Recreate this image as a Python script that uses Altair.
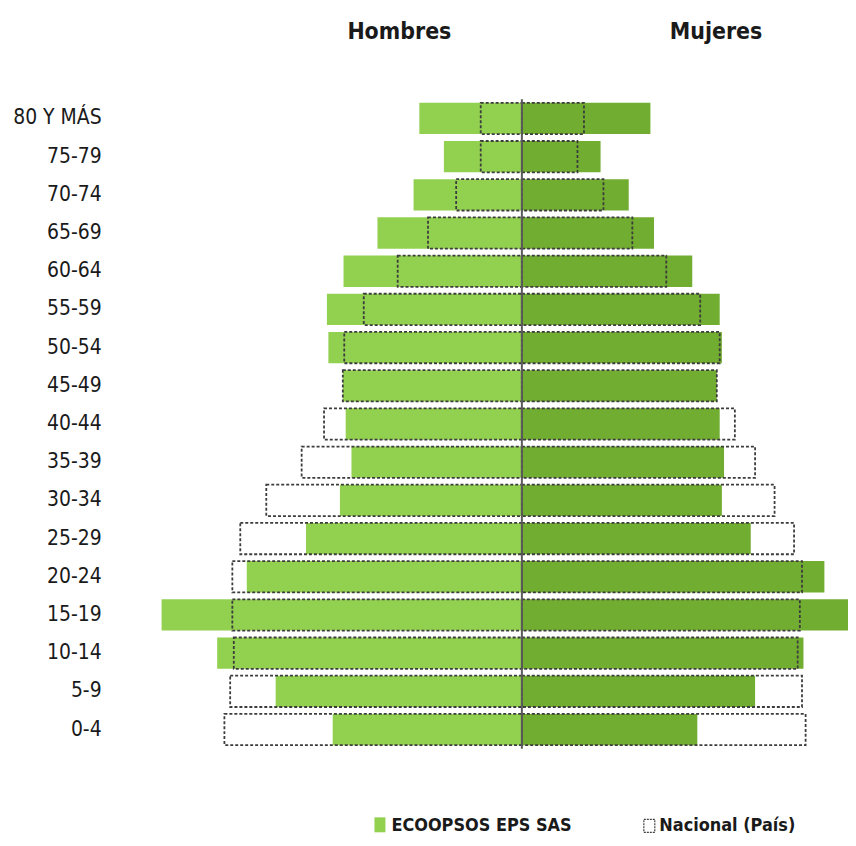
import altair as alt
import pandas as pd

# Age groups, top to bottom
grupos = ["80 Y MÁS", "75-79", "70-74", "65-69", "60-64", "55-59", "50-54",
          "45-49", "40-44", "35-39", "30-34", "25-29", "20-24", "15-19",
          "10-14", "5-9", "0-4"]

# Percent of population (ECOOPSOS EPS SAS)
hombres_eps = [1.42, 1.08, 1.50, 2.00, 2.47, 2.70, 2.68, 2.48, 2.44, 2.36,
               2.52, 2.99, 3.81, 4.99, 4.22, 3.41, 2.62]
mujeres_eps = [1.78, 1.09, 1.48, 1.83, 2.36, 2.74, 2.77, 2.70, 2.74, 2.80,
               2.77, 3.17, 4.19, 4.75, 3.90, 3.23, 2.43]

# Percent of population (Nacional - País)
hombres_nac = [0.57, 0.57, 0.91, 1.30, 1.72, 2.19, 2.46, 2.48, 2.74, 3.05,
               3.54, 3.90, 4.01, 4.01, 3.99, 4.04, 4.12]
mujeres_nac = [0.86, 0.77, 1.13, 1.53, 2.00, 2.47, 2.74, 2.70, 2.95, 3.23,
               3.50, 3.77, 3.88, 3.85, 3.82, 3.88, 3.93]

sexos = ["Hombres", "Mujeres"]
leyenda = ["ECOOPSOS EPS SAS", "Nacional (País)"]

FONT = "DejaVu Sans Condensed, Liberation Sans, sans-serif"

rows = []
for i, g in enumerate(grupos):
    rows.append({"grupo": g, "sexo": sexos[0], "eps": -hombres_eps[i], "nac": -hombres_nac[i]})
    rows.append({"grupo": g, "sexo": sexos[1], "eps": mujeres_eps[i], "nac": mujeres_nac[i]})
df = pd.DataFrame(rows)

xscale = alt.Scale(domain=[-5.0, 4.517], nice=False, zero=False)
yenc = alt.Y("grupo:N", sort=grupos,
             scale=alt.Scale(paddingInner=0.18, paddingOuter=0.09),
             axis=alt.Axis(title=None, ticks=False, domain=False, grid=False,
                           labelPadding=60, labelFont=FONT, labelFontSize=21,
                           labelColor="#1a1a1a"))

base = alt.Chart(df)

bars = base.mark_bar(clip=True).encode(
    x=alt.X("eps:Q", scale=xscale, axis=None),
    x2=alt.datum(0),
    y=yenc,
    color=alt.Color("sexo:N", scale=alt.Scale(domain=sexos, range=["#92D050", "#71AD30"]), legend=None),
)

nac = base.mark_bar(fill="transparent", stroke="#3c3c3c", strokeDash=[3, 2],
                    strokeWidth=1.8, clip=True).encode(
    x=alt.X("nac:Q", scale=xscale, axis=None),
    x2=alt.datum(0),
    y=alt.Y("grupo:N", sort=grupos),
)

rule = alt.Chart(pd.DataFrame({"c": [0]})).mark_rule(color="#5a5a5a", strokeWidth=2).encode(
    x=alt.X("c:Q", scale=xscale, axis=None)
)

tit_df = pd.DataFrame({"t": sexos})
tit_h = alt.Chart(tit_df).transform_filter(alt.datum.t == "Hombres").mark_text(
    font=FONT, fontSize=23, fontWeight="bold", color="#1a1a1a", align="center", baseline="alphabetic"
).encode(text="t:N", x=alt.value(239.5), y=alt.value(-61))
tit_m = alt.Chart(tit_df).transform_filter(alt.datum.t == "Mujeres").mark_text(
    font=FONT, fontSize=23, fontWeight="bold", color="#1a1a1a", align="center", baseline="alphabetic"
).encode(text="t:N", x=alt.value(557.5), y=alt.value(-61))

leg_df = pd.DataFrame({"t": leyenda})
leg_sq1 = alt.Chart(leg_df).transform_filter(alt.datum.t == leyenda[0]).mark_rect(
    color="#92D050").encode(x=alt.value(214.5), x2=alt.value(225.5), y=alt.value(721), y2=alt.value(736))
leg_sq2 = alt.Chart(leg_df).transform_filter(alt.datum.t == leyenda[1]).mark_rect(
    fill="white", stroke="#404040", strokeDash=[2, 1], strokeWidth=1.2
).encode(x=alt.value(485), x2=alt.value(496), y=alt.value(723), y2=alt.value(736))
leg_t1 = alt.Chart(leg_df).transform_filter(alt.datum.t == leyenda[0]).mark_text(
    font=FONT, fontSize=18, fontWeight="bold", color="#1a1a1a", align="left", baseline="alphabetic"
).encode(text="t:N", x=alt.value(231.5), y=alt.value(735))
leg_t2 = alt.Chart(leg_df).transform_filter(alt.datum.t == leyenda[1]).mark_text(
    font=FONT, fontSize=18, fontWeight="bold", color="#1a1a1a", align="left", baseline="alphabetic"
).encode(text="t:N", x=alt.value(500.5), y=alt.value(735))

chart = alt.layer(bars, nac, rule, tit_h, tit_m, leg_sq1, leg_sq2, leg_t1, leg_t2).properties(
    width=690, height=652,
    autosize=alt.AutoSizeParams(type="none"),
    padding={"left": 153.5, "top": 90, "right": 0, "bottom": 88},
).configure_view(stroke=None)

chart.save("out.html", embed_options={"renderer": "svg", "actions": False})
